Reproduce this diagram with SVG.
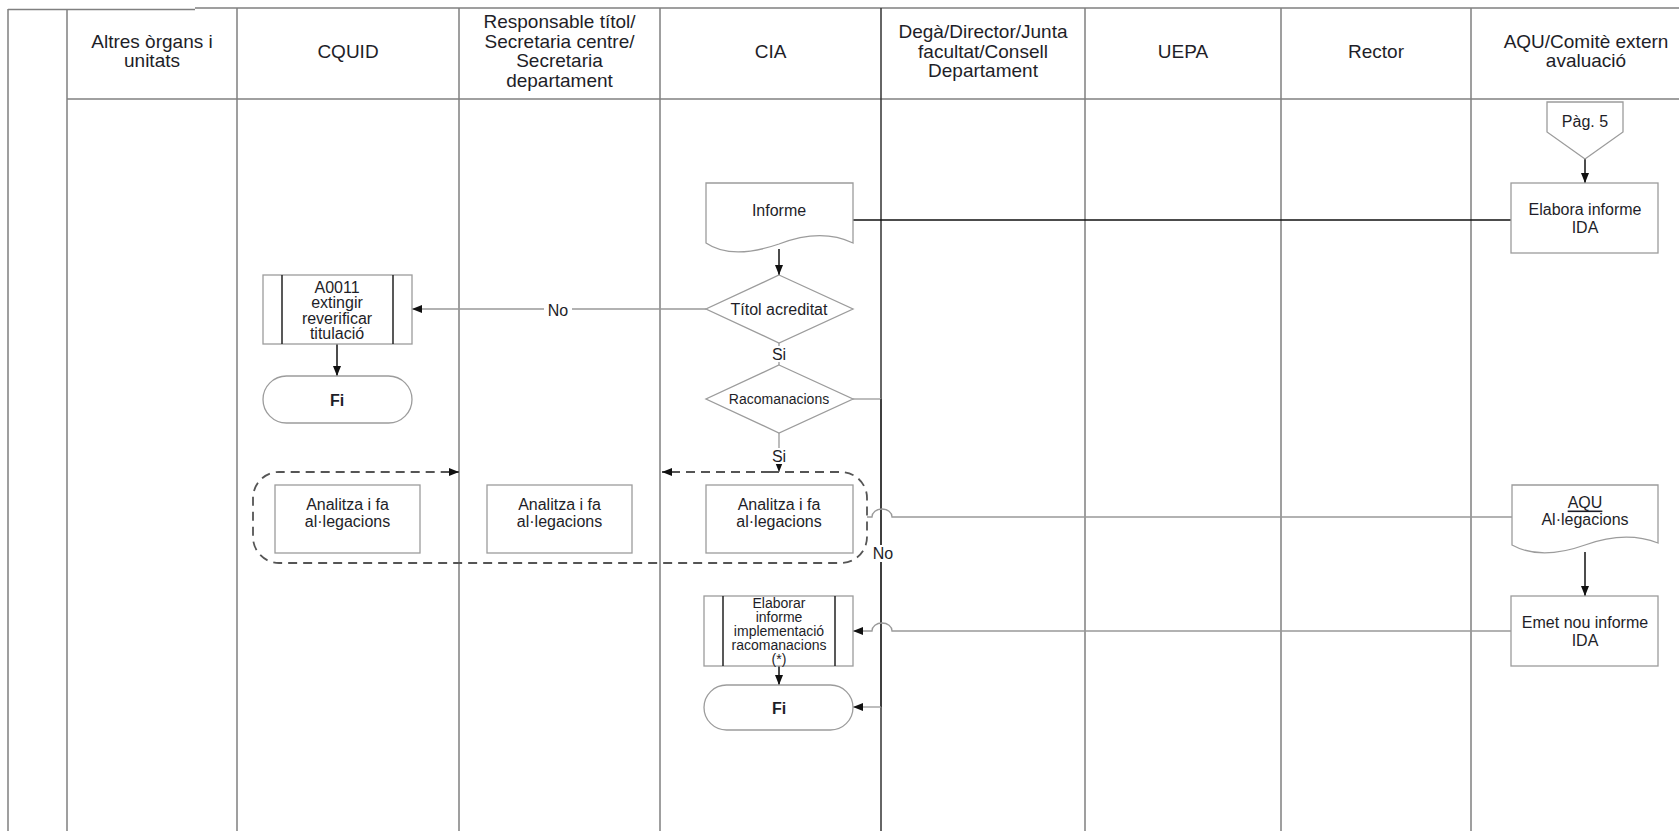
<svg xmlns="http://www.w3.org/2000/svg" width="1679" height="831" viewBox="0 0 1679 831">
<style>
  text { font-family: "Liberation Sans", Arial, sans-serif; fill: #1e1e28; text-anchor: middle; dominant-baseline: central; }
  .hd { font-size: 19px; }
  .nt { font-size: 16px; }
  .sm { font-size: 14px; }
  .bold { font-weight: bold; }
  .lane { stroke: #808080; stroke-width: 1.5; fill: none; }
  .shape { fill: #ffffff; stroke: #9c9c9c; stroke-width: 1.3; }
  .inner { stroke: #222; stroke-width: 1.5; }
  .cb { stroke: #111; stroke-width: 1.5; fill: none; }
  .cg { stroke: #999; stroke-width: 1.3; fill: none; }
  .dash { stroke: #555; stroke-width: 1.8; fill: none; stroke-dasharray: 9 6; }
  .lblbg { fill: #ffffff; stroke: none; }
</style>
<defs>
  <marker id="arr" viewBox="0 0 10 8" refX="10" refY="4" markerWidth="10" markerHeight="8" markerUnits="userSpaceOnUse" orient="auto">
    <path d="M0,0 L10,4 L0,8 Z" fill="#111"/>
  </marker>
</defs>
<rect x="0" y="0" width="1679" height="831" fill="#ffffff"/>

<g id="swimlanes">
  <path class="lane" d="M8,9.5 H195 M195,8 H1679"/>
  <path class="lane" d="M67,99 H1679"/>
  <path class="lane" d="M8,9 V831 M67,9 V831 M237,8 V831 M459,8 V831 M660,8 V831 M1085,8 V831 M1281,8 V831 M1471,8 V831"/>
  <path d="M881,8 V831" stroke="#333" stroke-width="1.5" fill="none"/>
  <g class="hd">
    <text x="152" y="41.25">Altres òrgans i</text>
    <text x="152" y="60.75">unitats</text>
    <text x="348" y="51">CQUID</text>
    <text x="559.5" y="21.5">Responsable títol/</text>
    <text x="559.5" y="41.2">Secretaria centre/</text>
    <text x="559.5" y="60.9">Secretaria</text>
    <text x="559.5" y="80.6">departament</text>
    <text x="770.5" y="51">CIA</text>
    <text x="983" y="31.3">Degà/Director/Junta</text>
    <text x="983" y="51">facultat/Consell</text>
    <text x="983" y="70.7">Departament</text>
    <text x="1183" y="51">UEPA</text>
    <text x="1376" y="51">Rector</text>
    <text x="1586" y="41.2">AQU/Comitè extern</text>
    <text x="1586" y="60.9">avaluació</text>
  </g>
</g>

<g id="connectors">
  <line class="cb" x1="1585" y1="159" x2="1585" y2="183" marker-end="url(#arr)"/>
  <line class="cb" x1="1511" y1="220" x2="853" y2="220"/>
  <line class="cb" x1="779" y1="249" x2="779" y2="275" marker-end="url(#arr)"/>
  <line class="cg" x1="706" y1="309" x2="412" y2="309" marker-end="url(#arr)"/>
  <rect class="lblbg" x="544" y="301" width="28" height="17"/>
  <text class="nt" x="558" y="310">No</text>
  <line class="cb" x1="337" y1="344" x2="337" y2="376" marker-end="url(#arr)"/>
  <line class="cg" x1="779" y1="343" x2="779" y2="365"/>
  <rect class="lblbg" x="770" y="346" width="18" height="16"/>
  <text class="nt" x="779" y="354">Si</text>
  <path class="cg" d="M853,399 H881"/>
  <path d="M881,399 V707" stroke="#333" stroke-width="1.5" fill="none"/>
  <line class="cg" x1="881" y1="707" x2="853" y2="707" marker-end="url(#arr)"/>
  <rect class="lblbg" x="870" y="545" width="26" height="17"/>
  <text class="nt" x="883" y="553">No</text>
  <line class="cg" x1="779" y1="433" x2="779" y2="472" marker-end="url(#arr)"/>
  <rect class="lblbg" x="770" y="448" width="18" height="16"/>
  <text class="nt" x="779" y="456">Si</text>
  <path class="dash" d="M770,472 H662" marker-end="url(#arr)"/>
  <path class="dash" d="M770,472 H841 A26,26 0 0 1 867,498 V537 A26,26 0 0 1 841,563 H279 A26,26 0 0 1 253,537 V498 A26,26 0 0 1 279,472 H459" marker-end="url(#arr)"/>
  <path class="cg" d="M1512,517 H892 A10,8 0 0 0 872,517 H867"/>
  <line class="cb" x1="1585" y1="552" x2="1585" y2="596" marker-end="url(#arr)"/>
  <path class="cg" d="M1511,631 H892 A10,8 0 0 0 872,631 H853" marker-end="url(#arr)"/>
  <line class="cb" x1="779" y1="666" x2="779" y2="685" marker-end="url(#arr)"/>
</g>

<g id="node-pag5">
  <path class="shape" d="M1547,102 H1623 V132 L1585,159 L1547,132 Z"/>
  <text class="nt" x="1585" y="121">Pàg. 5</text>
</g>
<g id="node-elabora-ida">
  <rect class="shape" x="1511" y="183" width="147" height="70"/>
  <text class="nt" x="1585" y="209">Elabora informe</text>
  <text class="nt" x="1585" y="227">IDA</text>
</g>
<g id="node-informe">
  <path class="shape" d="M706,183 H853 V243 C830,232 805,234 779,244 C750,254 725,256 706,243 Z"/>
  <text class="nt" x="779" y="210">Informe</text>
</g>
<g id="node-titol">
  <path class="shape" d="M779,275 L853,309 L779,343 L706,309 Z"/>
  <text class="nt" x="779" y="309">Títol acreditat</text>
</g>
<g id="node-racomanacions">
  <path class="shape" d="M779,365 L853,399 L779,433 L706,399 Z"/>
  <text class="sm" x="779" y="399">Racomanacions</text>
</g>
<g id="node-a0011">
  <rect class="shape" x="263" y="275" width="149" height="69"/>
  <line class="inner" x1="282" y1="275" x2="282" y2="344"/>
  <line class="inner" x1="393" y1="275" x2="393" y2="344"/>
  <text class="nt" x="337" y="287">A0011</text>
  <text class="nt" x="337" y="302.5">extingir</text>
  <text class="nt" x="337" y="318">reverificar</text>
  <text class="nt" x="337" y="333.5">titulació</text>
</g>
<g id="node-fi-cquid">
  <rect class="shape" x="263" y="376" width="149" height="47" rx="23.5"/>
  <text class="nt bold" x="337" y="400">Fi</text>
</g>
<g id="node-analitza-cquid">
  <rect class="shape" x="275" y="485" width="145" height="68"/>
  <text class="nt" x="347.5" y="504">Analitza i fa</text>
  <text class="nt" x="347.5" y="521">al·legacions</text>
</g>
<g id="node-analitza-resp">
  <rect class="shape" x="487" y="485" width="145" height="68"/>
  <text class="nt" x="559.5" y="504">Analitza i fa</text>
  <text class="nt" x="559.5" y="521">al·legacions</text>
</g>
<g id="node-analitza-cia">
  <rect class="shape" x="706" y="485" width="147" height="68"/>
  <text class="nt" x="779" y="504">Analitza i fa</text>
  <text class="nt" x="779" y="521">al·legacions</text>
</g>
<g id="node-aqu-allegacions">
  <path class="shape" d="M1512,485 H1658 V543 C1635,534 1610,536 1585,545 C1557,555 1532,556 1512,545 Z"/>
  <text class="nt" x="1585" y="502" text-decoration="underline">AQU</text>
  <text class="nt" x="1585" y="519">Al·legacions</text>
</g>
<g id="node-emet">
  <rect class="shape" x="1511" y="596" width="147" height="70"/>
  <text class="nt" x="1585" y="622">Emet nou informe</text>
  <text class="nt" x="1585" y="640">IDA</text>
</g>
<g id="node-elaborar">
  <rect class="shape" x="704" y="596" width="149" height="70"/>
  <line class="inner" x1="723" y1="596" x2="723" y2="666"/>
  <line class="inner" x1="835" y1="596" x2="835" y2="666"/>
  <text class="sm" x="779" y="603">Elaborar</text>
  <text class="sm" x="779" y="617">informe</text>
  <text class="sm" x="779" y="631">implementació</text>
  <text class="sm" x="779" y="645">racomanacions</text>
  <text class="sm" x="779" y="659">(*)</text>
</g>
<g id="node-fi-cia">
  <rect class="shape" x="704" y="685" width="149" height="45" rx="22.5"/>
  <text class="nt bold" x="779" y="708">Fi</text>
</g>
</svg>
